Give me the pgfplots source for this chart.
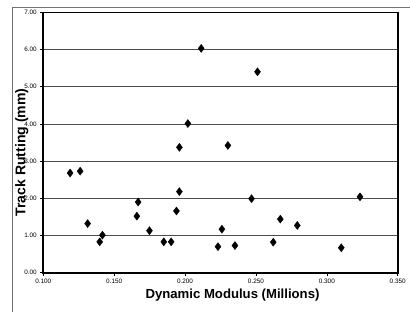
\documentclass[border=0pt]{standalone}
\usepackage{pgfplots}
\pgfplotsset{compat=1.18}
\usepackage{fontspec}
\setmainfont{Liberation Sans}
\begin{document}
\begin{tikzpicture}[x=1bp,y=1bp]
\useasboundingbox (0,0) rectangle (410,312);
\draw[black!55, line width=1bp] (12,0) -- (12,304) -- (410,304);
\begin{axis}[
  at={(43.3bp,39.3bp)}, anchor=south west,
  scale only axis, width=354.4bp, height=260.4bp,
  xmin=0.1, xmax=0.35, ymin=0, ymax=7,
  xtick={0.1,0.15,0.2,0.25,0.3,0.35},
  ytick={0,1,2,3,4,5,6,7},
  axis line style={black, line width=1.6bp},
  tick align=outside, major tick length=3bp,
  tick style={black, line width=0.6bp},
  xtick pos=bottom, ytick pos=left,
  ymajorgrids, major grid style={black!70, line width=0.8bp},
  /pgf/number format/assume math mode=true,
  xticklabel style={font=\fontsize{6.4}{7}\selectfont, /pgf/number format/.cd, fixed, fixed zerofill, precision=3},
  yticklabel style={font=\fontsize{6.4}{7}\selectfont, /pgf/number format/.cd, fixed, fixed zerofill, precision=2},
  scaled x ticks=false,
  xlabel={\textbf{Dynamic Modulus (Millions)}},
  xlabel style={font=\fontsize{13.2}{15}\selectfont, at={(axis description cs:0.5,0)}, anchor=center, yshift=-22.3bp, xshift=12bp},
  ylabel={\textbf{Track Rutting (mm)}},
  ylabel style={font=\fontsize{14.1}{16}\selectfont, at={(axis description cs:0,0.5)}, anchor=center, xshift=-10bp, yshift=21.6bp},
  clip=false,
]
\addplot[only marks, mark=diamond*, mark size=4bp, mark options={black, fill=black}] coordinates {
(0.1189,2.68)
(0.1260,2.73)
(0.1313,1.32)
(0.1398,0.83)
(0.1417,1.01)
(0.1660,1.52)
(0.1669,1.90)
(0.1749,1.13)
(0.1850,0.83)
(0.1902,0.83)
(0.1939,1.66)
(0.1960,2.18)
(0.1960,3.37)
(0.2020,4.01)
(0.2114,6.03)
(0.2232,0.70)
(0.2260,1.17)
(0.2302,3.42)
(0.2352,0.73)
(0.2469,1.99)
(0.2511,5.40)
(0.2622,0.82)
(0.2672,1.44)
(0.2792,1.27)
(0.3102,0.67)
(0.3234,2.04)
};
\end{axis}
\end{tikzpicture}
\end{document}
